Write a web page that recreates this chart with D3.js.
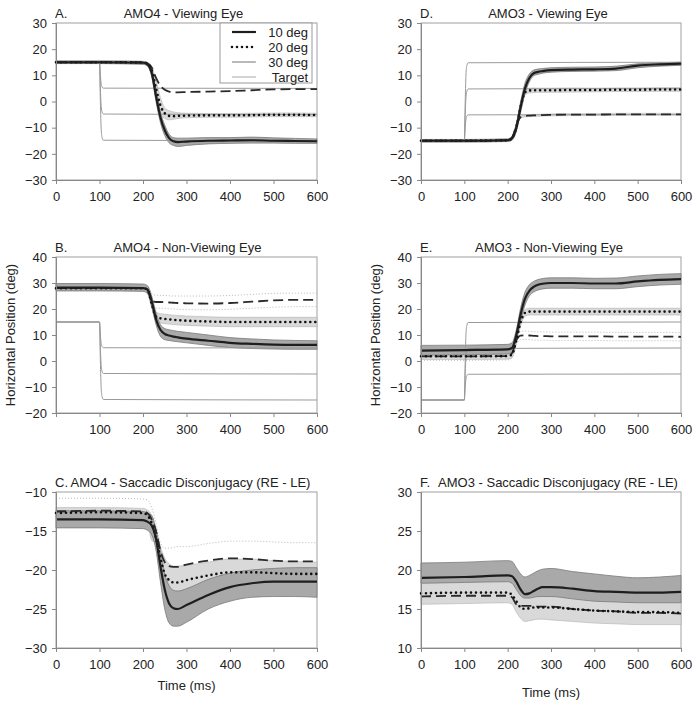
<!DOCTYPE html>
<html><head><meta charset="utf-8">
<script src="https://cdn.jsdelivr.net/npm/d3@7"></script>
<style>body{margin:0;background:#fff} text{font-family:"Liberation Sans",Arial,sans-serif;fill:#222}</style>
</head><body><svg id="c" width="698" height="703"></svg>
<script>
// ---------- DATA ----------
const time = [0,100,200,210,220,230,240,250,260,270,280,300,350,400,450,500,550,600];
const targetTime = [0,100,102,104,106,109,600];
const xTicks = [0,100,200,300,400,500,600];
const legendLabels = ["10 deg","20 deg","30 deg","Target"];

// Panel A: AMO4 - Viewing Eye
const aSolid   = [15,15,14.8,14.2,11,2,-6,-11,-14,-15.2,-15.5,-15.3,-15,-14.9,-14.8,-15,-15.1,-15.2];
const aSolidLo = [14.5,14.5,14.2,13.5,9.5,0,-8,-13,-15.8,-16.8,-17.2,-16.8,-16.2,-16,-15.9,-15.9,-16,-16];
const aSolidHi = [15.5,15.5,15.3,14.8,12.5,4,-4,-9,-12.5,-13.8,-14,-14,-13.8,-13.8,-13.6,-13.9,-14.1,-14.3];
const aDotted   = [15,15,14.9,14.5,12,5,-1.5,-4.5,-5.5,-5.6,-5.5,-5.4,-5.3,-5.3,-5.2,-5.1,-5.1,-5.2];
const aDottedLo = [14.5,14.5,14.4,13.8,10,2,-4.5,-6.5,-7,-6.8,-6.5,-6.2,-6,-6,-5.9,-5.8,-5.8,-5.8];
const aDottedHi = [15.5,15.5,15.4,15,13.5,8,1.5,-2.5,-3.5,-4,-4.3,-4.5,-4.6,-4.6,-4.5,-4.4,-4.4,-4.5];
const aDashed   = [15,15,15,14.6,13,9,6,4.5,3.8,3.5,3.5,3.6,3.8,4,4.3,4.6,4.7,4.7];
const aDashedLo = [14.6,14.6,14.6,14.2,12.6,8.6,5.6,4.1,3.4,3.1,3.1,3.2,3.4,3.6,3.9,4.2,4.3,4.3];
const aDashedHi = [15.4,15.4,15.4,15,13.4,9.4,6.4,4.9,4.2,3.9,3.9,4,4.2,4.4,4.7,5,5.1,5.1];
const aTargets = [[15,15,10,6.5,5.5,5.1,5],[15,15,5,-2,-4,-4.8,-5],[15,15,0,-11,-13.8,-14.8,-15]];
const aYTicks = [-30,-20,-10,0,10,20,30];

// Panel B: AMO4 - Non-Viewing Eye
const bSolid   = [28.2,28.2,28,27.5,23,16,12,10.4,9.8,9.4,9.1,8.6,7.8,7,6.6,6.3,6.2,6.2];
const bSolidLo = [27,27,26.8,26,21,14,9.5,8.2,7.9,7.6,7.4,7,6,5.2,4.8,4.6,4.5,4.5];
const bSolidHi = [29.8,29.8,29.6,29,25,18.5,14,12.5,12,11.7,11.4,11,10,9,8.5,8.1,7.9,7.8];
const bDotted   = [28,28,28,27.5,22,17,16.4,16.2,16,15.8,15.7,15.5,15.2,15,15,15,15,15];
const bDottedLo = [27,27,27,26.3,20.5,15.2,14.6,14.4,14.2,14,13.9,13.7,13.4,13.2,13.2,13.2,13.2,13.2];
const bDottedHi = [29,29,29,28.7,23.5,18.8,18.2,18,17.8,17.6,17.5,17.3,17,16.8,16.8,16.8,16.8,16.8];
const bDashed   = [28,28,28,27.5,23.5,22.7,22.7,22.6,22.5,22.4,22.3,22.2,22.1,22.3,22.8,23.3,23.5,23.5];
const bDashedLo = [27,27,27,26.5,21,20.3,20.3,20.2,20.1,20,19.9,19.8,19.7,19.9,20.3,20.7,20.9,20.9];
const bDashedHi = [29,29,29,28.5,26,25.3,25.3,25.2,25.1,25,25,25,25,25.2,25.6,26,26.1,26.1];
const bTargets = [[15,15,10,6.5,5.5,5.1,5],[15,15,5,-2,-4,-4.8,-5],[15,15,0,-11,-13.8,-14.8,-15]];
const bYTicks = [-20,-10,0,10,20,30,40];

// Panel C: AMO4 - Saccadic Disconjugacy (RE - LE)
const cSolid   = [-13.5,-13.5,-13.6,-13.8,-14.3,-16,-19.5,-22.5,-24.3,-24.9,-25,-24.5,-23.2,-22.2,-21.7,-21.5,-21.5,-21.5];
const cSolidLo = [-14.6,-14.6,-14.7,-14.9,-15.5,-17.5,-21.5,-25,-26.8,-27.2,-27.2,-26.7,-25,-24,-23.5,-23.4,-23.4,-23.5];
const cSolidHi = [-12.4,-12.4,-12.5,-12.7,-13,-14.8,-17.5,-20.5,-22,-22.6,-22.7,-22.4,-21.2,-20.4,-20,-19.8,-19.7,-19.7];
const cDotted   = [-12.7,-12.6,-12.7,-13,-14,-16,-18.5,-20.5,-21.3,-21.6,-21.6,-21.3,-20.7,-20.3,-20.3,-20.4,-20.5,-20.5];
const cDottedLo = [-13.3,-13.3,-13.4,-13.8,-16.2,-16.5,-19.5,-21.5,-22.5,-22.8,-22.8,-22.4,-21.5,-21,-20.7,-20.5,-20.4,-20.4];
const cDottedHi = [-12,-12,-12.1,-12.3,-13,-15,-17,-18.5,-19.2,-19.5,-19.5,-19.4,-19,-18.6,-18.6,-18.8,-18.9,-19];
const cDashed   = [-12.5,-12.4,-12.5,-12.7,-13.5,-15,-17.5,-19,-19.5,-19.6,-19.6,-19.3,-18.8,-18.5,-18.6,-18.8,-18.9,-18.9];
const cDashedLo = [-14.2,-14.1,-14.2,-14.4,-15,-16,-18.5,-20.8,-21.8,-22,-22,-21.6,-21,-20.7,-20.9,-21.1,-21.3,-21.3];
const cDashedHi = [-10.8,-10.8,-10.9,-11,-12,-14,-16.5,-17.2,-17.2,-17.1,-17,-17,-16.6,-16.3,-16.3,-16.4,-16.5,-16.5];
const cYTicks = [-30,-25,-20,-15,-10];

// Panel D: AMO3 - Viewing Eye
const dSolid   = [-15,-15,-14.8,-14,-10,-2,5,9,10.8,11.3,11.6,12,12.2,12.3,12.6,13.7,14.2,14.5];
const dSolidLo = [-15.5,-15.5,-15.3,-14.8,-11.5,-4,3,7.5,9.8,10.4,10.8,11.2,11.5,11.6,11.8,12.9,13.5,13.8];
const dSolidHi = [-14.5,-14.5,-14.3,-13.2,-8.5,0,7,10.5,12,12.4,12.6,12.9,13.1,13.2,13.5,14.4,14.8,15];
const dDotted   = [-15,-15,-14.8,-14,-10,-2,3.5,4.2,4.3,4.3,4.3,4.3,4.4,4.4,4.5,4.5,4.6,4.6];
const dDottedLo = [-15.4,-15.4,-15.2,-14.6,-11,-3.5,2.6,3.3,3.4,3.5,3.5,3.5,3.6,3.7,3.8,3.8,3.9,3.9];
const dDottedHi = [-14.6,-14.6,-14.4,-13.4,-9,-0.5,4.4,5.1,5.2,5.1,5.1,5.1,5.2,5.1,5.2,5.2,5.3,5.3];
const dDashed   = [-15,-15,-14.8,-14,-9,-6,-5.5,-5.4,-5.3,-5.3,-5.2,-5.1,-5,-5,-4.9,-4.9,-4.9,-4.9];
const dDashedLo = [-15.4,-15.4,-15.2,-14.4,-9.4,-6.4,-5.9,-5.8,-5.7,-5.7,-5.6,-5.5,-5.4,-5.4,-5.3,-5.3,-5.3,-5.3];
const dDashedHi = [-14.6,-14.6,-14.4,-13.6,-8.6,-5.6,-5.1,-5,-4.9,-4.9,-4.8,-4.7,-4.6,-4.6,-4.5,-4.5,-4.5,-4.5];
const dTargets = [[-15,-15,0,11,13.8,14.8,15],[-15,-15,-5,2,4,4.8,5],[-15,-15,-10,-6.5,-5.5,-5.1,-5]];
const dYTicks = [-30,-20,-10,0,10,20,30];

// Panel E: AMO3 - Non-Viewing Eye
const eSolid   = [4,4.2,4.5,5,10,18,24,27,28.5,29.3,29.7,30,30,29.8,29.8,30.6,31.2,31.5];
const eSolidLo = [2.2,2.4,2.7,3.2,8,15.5,21.5,25,26.5,27.3,27.7,28,28,27.8,27.8,28.6,29.2,29.5];
const eSolidHi = [6,6.1,6.4,7,12,20.5,26.5,29.3,30.6,31.3,31.7,32,32,31.8,31.9,32.7,33.3,33.6];
const eDotted   = [1.8,1.8,1.9,2.5,8,15,18.5,19,19,19,19,19,19,19,19,19,19,19];
const eDottedLo = [0.6,0.6,0.7,1.2,6.5,13.5,17.2,17.7,17.7,17.7,17.7,17.7,17.7,17.7,17.7,17.7,17.7,17.7];
const eDottedHi = [3,3,3.1,3.8,9.5,16.5,19.8,20.3,20.3,20.3,20.3,20.3,20.3,20.3,20.3,20.3,20.3,20.3];
const eDashed   = [1.8,1.8,1.9,3,8,9.8,9.9,9.8,9.7,9.6,9.6,9.5,9.5,9.5,9.4,9.4,9.4,9.3];
const eDashedLo = [0.3,0.3,0.4,1.4,6.4,8.2,8.3,8.2,8.1,8,8,7.9,7.9,7.9,7.8,7.8,7.8,7.7];
const eDashedHi = [3.4,3.4,3.5,4.6,9.6,11.4,11.5,11.4,11.3,11.2,11.2,11.1,11.1,11.1,11,11,11,10.9];
const eTargets = [[-15,-15,0,11,13.8,14.8,15],[-15,-15,-5,2,4,4.8,5],[-15,-15,-10,-6.5,-5.5,-5.1,-5]];
const eYTicks = [-20,-10,0,10,20,30,40];

// Panel F: AMO3 - Saccadic Disconjugacy (RE - LE)
const fSolid   = [19,19.1,19.3,19.2,18.5,17.5,16.9,17,17.3,17.6,17.8,17.8,17.6,17.3,17.2,17.1,17.1,17.2];
const fSolidLo = [18.3,18.4,18.5,18.3,17.5,16.7,16.4,16.4,16.5,16.6,16.6,16.6,16.3,16,15.9,15.8,15.8,15.8];
const fSolidHi = [20.9,21,21.2,21.1,20.3,19.5,19.1,19.3,19.6,19.9,20.1,20.2,19.8,19.5,19.2,19,19.1,19.3];
const fDotted   = [17,17.1,17.1,16.8,16,15.2,15,15.1,15.2,15.2,15.2,15.2,15,14.8,14.7,14.6,14.6,14.5];
const fDottedLo = [15.6,15.7,15.8,15.6,14.6,13.8,13.4,13.5,13.6,13.7,13.7,13.6,13.4,13.2,13.1,13,13,13];
const fDottedHi = [18.6,18.7,18.8,18.6,17.8,17,16.7,16.7,16.8,16.9,16.9,16.9,16.6,16.3,16.2,16.1,16.1,16.1];
const fDashed   = [16.6,16.7,16.7,16.5,15.6,15.4,15.4,15.4,15.4,15.3,15.3,15.3,15,14.8,14.7,14.5,14.5,14.4];
const fDashedLo = [15.8,15.9,15.9,15.7,14.8,14.6,14.6,14.6,14.6,14.5,14.5,14.5,14.2,14,13.9,13.7,13.7,13.6];
const fDashedHi = [17.4,17.5,17.5,17.3,16.4,16.2,16.2,16.2,16.2,16.1,16.1,16.1,15.8,15.6,15.5,15.3,15.3,15.2];
const fYTicks = [10,15,20,25,30];

// ---------- LAYOUT ----------
const panels = [
  {letter:"A.", title:"AMO4 - Viewing Eye", L:56, R:317, T:23, B:180, tdx:-3, yd:[-30,30], yt:aYTicks,
   s:[aSolid,aSolidLo,aSolidHi], d:[aDotted,aDottedLo,aDottedHi], h:[aDashed,aDashedLo,aDashedHi], tg:aTargets, legend:true, dashBand:"none"},
  {letter:"B.", title:"AMO4 - Non-Viewing Eye", L:56, R:317, T:257, B:413, tdx:1, yd:[-20,40], yt:bYTicks,
   s:[bSolid,bSolidLo,bSolidHi], d:[bDotted,bDottedLo,bDottedHi], h:[bDashed,bDashedLo,bDashedHi], tg:bTargets, ylab:true, noZero:true, dashBand:"dots"},
  {letter:"C.", title:"AMO4 - Saccadic Disconjugacy (RE - LE)", L:56, R:317, T:492, B:648, tdx:4, yd:[-30,-10], yt:cYTicks,
   s:[cSolid,cSolidLo,cSolidHi], d:[cDotted,cDottedLo,cDottedHi], h:[cDashed,cDashedLo,cDashedHi], tg:[], xlab:690, dashBand:"dots"},
  {letter:"D.", title:"AMO3 - Viewing Eye", L:421, R:681, T:23, B:180, tdx:-3, yd:[-30,30], yt:dYTicks,
   s:[dSolid,dSolidLo,dSolidHi], d:[dDotted,dDottedLo,dDottedHi], h:[dDashed,dDashedLo,dDashedHi], tg:dTargets, dashBand:"fill"},
  {letter:"E.", title:"AMO3 - Non-Viewing Eye", L:421, R:681, T:257, B:413, tdx:-2, yd:[-20,40], yt:eYTicks,
   s:[eSolid,eSolidLo,eSolidHi], d:[eDotted,eDottedLo,eDottedHi], h:[eDashed,eDashedLo,eDashedHi], tg:eTargets, ylab:true, dashBand:"dots"},
  {letter:"F.", title:"AMO3 - Saccadic Disconjugacy (RE - LE)", L:421, R:681, T:492, B:648, tdx:7, yd:[10,30], yt:fYTicks,
   s:[fSolid,fSolidLo,fSolidHi], d:[fDotted,fDottedLo,fDottedHi], h:[fDashed,fDashedLo,fDashedHi], tg:[], xlab:697, dashBand:"dots"}
];

const svg = d3.select("#c");
const FS = 13;

panels.forEach(p => {
  const x = d3.scaleLinear().domain([0,600]).range([p.L,p.R]);
  const y = d3.scaleLinear().domain(p.yd).range([p.B,p.T]);
  const g = svg.append("g");
  const curve = d3.curveMonotoneX;
  const line = arr => d3.line().curve(curve).x((v,i)=>x(time[i])).y(v=>y(v))(arr);
  const area = (lo,hi) => d3.area().curve(curve).x((v,i)=>x(time[i])).y0((v,i)=>y(lo[i])).y1((v,i)=>y(hi[i]))(lo);
  const tline = arr => d3.line().curve(d3.curveMonotoneX).x((v,i)=>x(targetTime[i])).y(v=>y(v))(arr);

  // frame
  g.append("rect").attr("x",p.L).attr("y",p.T).attr("width",p.R-p.L).attr("height",p.B-p.T)
    .attr("fill","none").attr("stroke","#a0a0a0").attr("stroke-width",1);

  // dashed series band
  if (p.dashBand === "dots") {
    [p.h[1],p.h[2]].forEach(a => g.append("path").attr("d",line(a)).attr("fill","none")
      .attr("stroke","#b8b8b8").attr("stroke-width",1).attr("stroke-dasharray","1,2"));
  } else if (p.dashBand === "fill") {
    g.append("path").attr("d",area(p.h[1],p.h[2])).attr("fill","#d8d8d8").attr("stroke","#bbb").attr("stroke-width",0.5);
  }
  // dotted series band (light)
  g.append("path").attr("d",area(p.d[1],p.d[2])).attr("fill","#d9d9d9").attr("stroke","#b0b0b0").attr("stroke-width",0.6);
  // solid series band (dark)
  g.append("path").attr("d",area(p.s[1],p.s[2])).attr("fill","#a9a9a9").attr("stroke","#7a7a7a").attr("stroke-width",0.8);

  // targets
  p.tg.forEach(t => g.append("path").attr("d",tline(t)).attr("fill","none").attr("stroke","#9a9a9a").attr("stroke-width",1));

  // mean lines
  g.append("path").attr("d",line(p.h[0])).attr("fill","none").attr("stroke","#2a2a2a")
    .attr("stroke-width",1.8).attr("stroke-dasharray","10,5");
  g.append("path").attr("d",line(p.d[0])).attr("fill","none").attr("stroke","#111")
    .attr("stroke-width",2.6).attr("stroke-linecap","round").attr("stroke-dasharray","0,5");
  g.append("path").attr("d",line(p.s[0])).attr("fill","none").attr("stroke","#1e1e1e").attr("stroke-width",2.2);

  // axes
  const xa = d3.axisBottom(x).tickValues(xTicks).tickSize(4).tickPadding(8)
    .tickFormat(v => (p.noZero && v===0) ? "" : v);
  const ya = d3.axisLeft(y).tickValues(p.yt).tickSize(4).tickPadding(5);
  const gx = g.append("g").attr("transform",`translate(0,${p.B})`).call(xa);
  const gy = g.append("g").attr("transform",`translate(${p.L},0)`).call(ya);
  [gx,gy].forEach(a => {
    a.selectAll("path,line").attr("stroke","#888");
    a.selectAll("text").attr("font-size",FS).attr("font-family","Liberation Sans, Arial, sans-serif").attr("fill","#222");
  });

  // titles
  g.append("text").attr("x",p.L-1).attr("y",p.T-5).attr("font-size",FS).text(p.letter);
  g.append("text").attr("x",(p.L+p.R)/2+p.tdx).attr("y",p.T-5).attr("font-size",FS)
    .attr("text-anchor","middle").text(p.title);

  if (p.ylab) {
    g.append("text").attr("transform",`translate(${p.L-41},${(p.T+p.B)/2}) rotate(-90)`)
      .attr("text-anchor","middle").attr("font-size",FS).text("Horizontal Position (deg)");
  }
  if (p.xlab) {
    g.append("text").attr("x",(p.L+p.R)/2).attr("y",p.xlab).attr("text-anchor","middle")
      .attr("font-size",FS).text("Time (ms)");
  }

  if (p.legend) {
    const lg = g.append("g");
    lg.append("rect").attr("x",220).attr("y",p.T).attr("width",92).attr("height",60)
      .attr("fill","#fff").attr("stroke","#999").attr("stroke-width",1);
    const styles = [
      {w:2.2,c:"#1e1e1e",da:null,cap:"butt"},
      {w:2.6,c:"#111",da:"0,5",cap:"round"},
      {w:1.2,c:"#8a8a8a",da:null,cap:"butt"},
      {w:1,c:"#a8a8a8",da:null,cap:"butt"}
    ];
    legendLabels.forEach((lab,i) => {
      const yy = p.T + 9 + i*15;
      const st = styles[i];
      const ln = lg.append("line").attr("x1",232).attr("x2",256).attr("y1",yy).attr("y2",yy)
        .attr("stroke",st.c).attr("stroke-width",st.w).attr("stroke-linecap",st.cap);
      if (st.da) ln.attr("stroke-dasharray",st.da);
      lg.append("text").attr("x",308).attr("y",yy+4.5).attr("text-anchor","end").attr("font-size",FS).text(lab);
    });
  }
});
</script></body></html>
